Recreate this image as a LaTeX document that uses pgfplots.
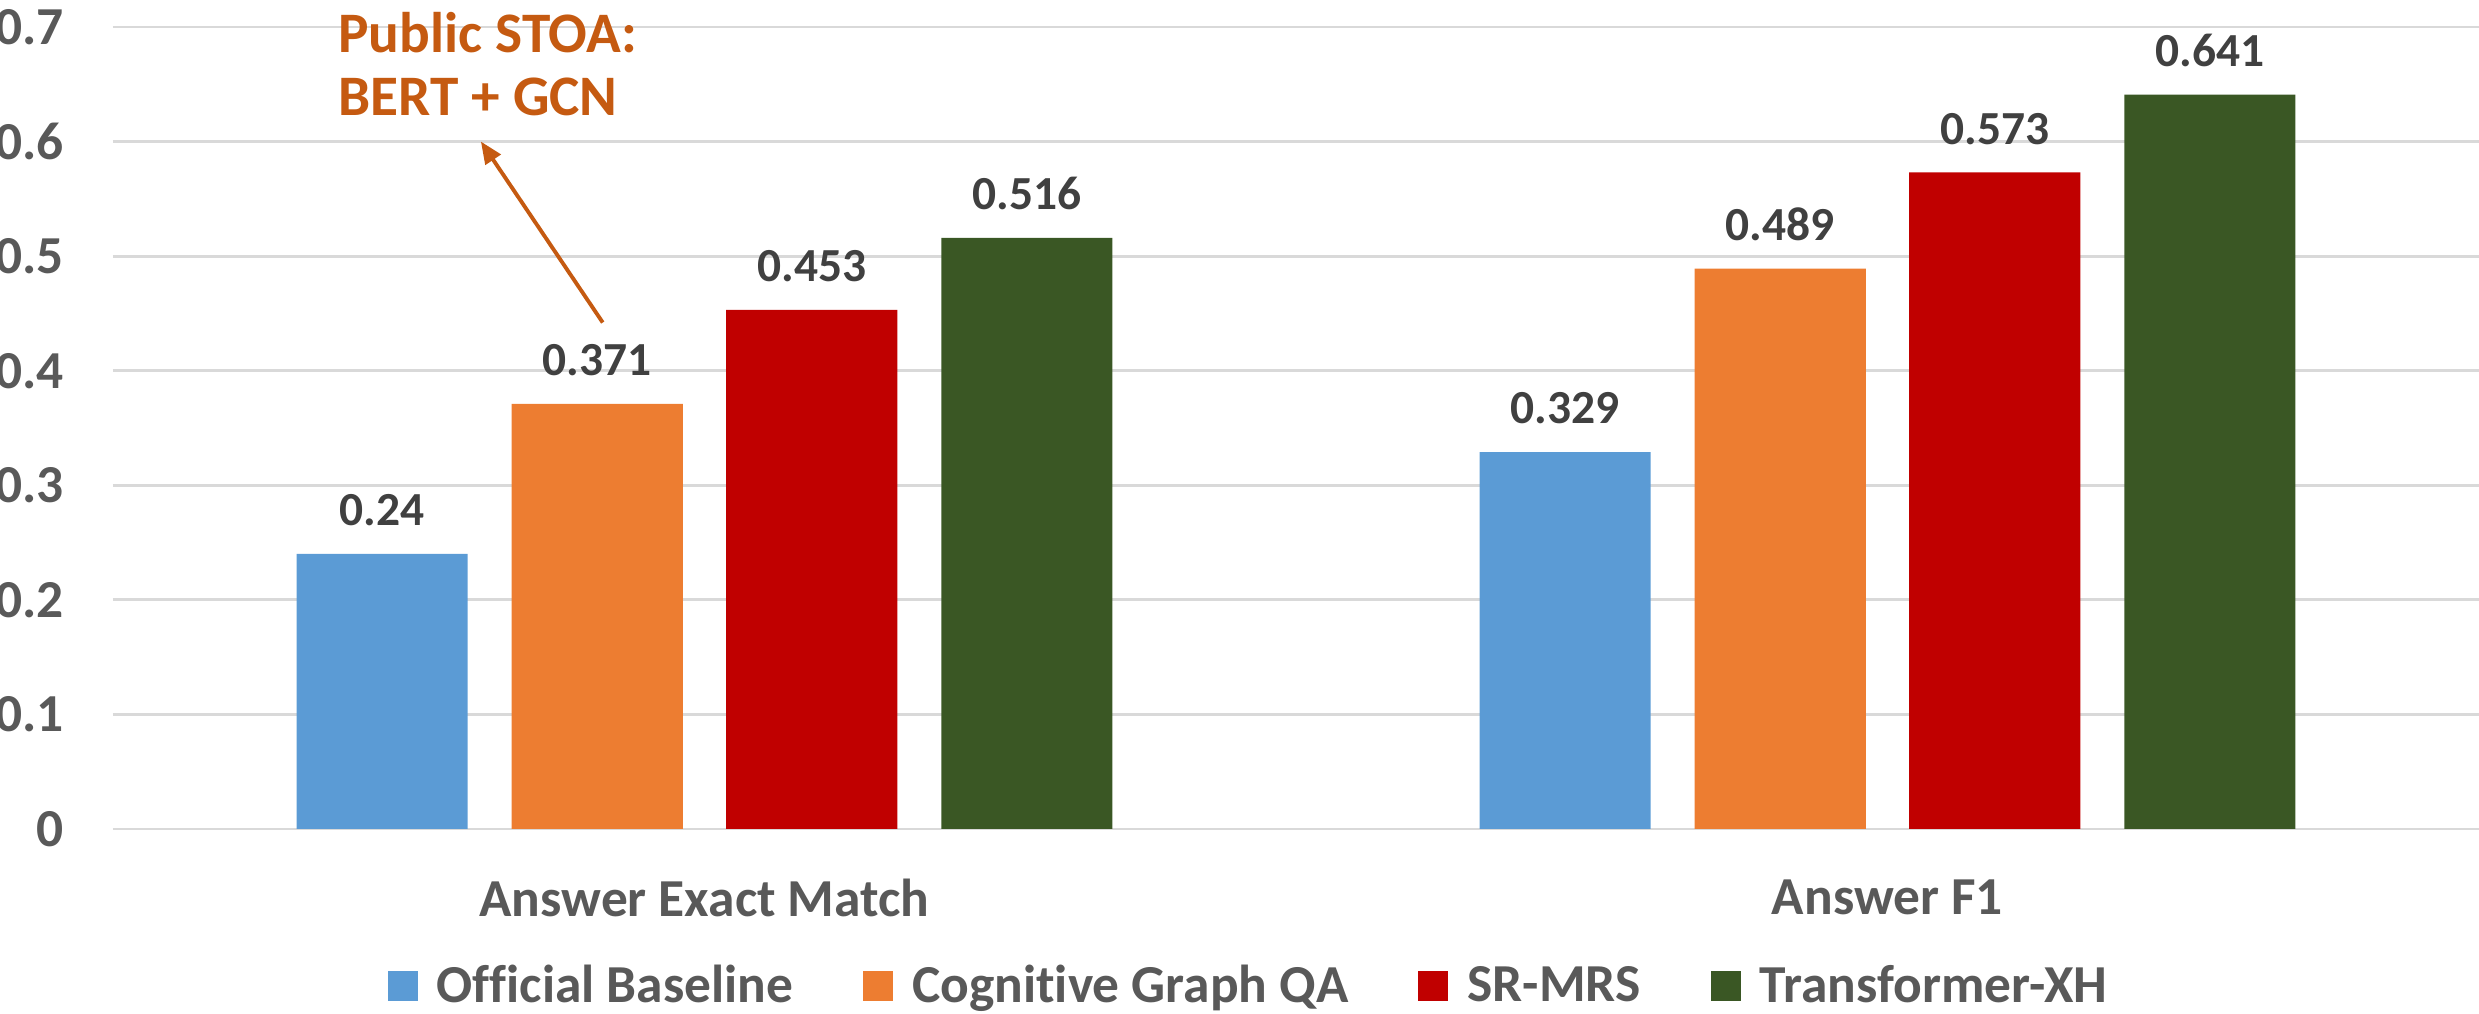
\documentclass[border=0pt]{standalone}
\usepackage{fontspec}
\setmainfont{Carlito}[Ligatures=NoCommon]
\usepackage{pgfplots}
\pgfplotsset{compat=1.18}
\usetikzlibrary{arrows.meta}
\definecolor{cBlue}{HTML}{5B9BD5}
\definecolor{cOrange}{HTML}{ED7D31}
\definecolor{cRed}{HTML}{C00000}
\definecolor{cGreen}{HTML}{3A5724}
\definecolor{gridc}{HTML}{D9D9D9}
\definecolor{gtext}{HTML}{595959}
\definecolor{labc}{HTML}{404040}
\definecolor{annot}{HTML}{C55A11}
\newcommand{\lf}{\fontsize{13.5}{16}\selectfont\bfseries}
\newcommand{\tf}{\fontsize{15.2}{18}\selectfont\bfseries}
\newcommand{\af}{\fontsize{16.3}{19}\selectfont\bfseries}
\pgfplotsset{sqlegend/.style={legend image code/.code={\fill[##1] (0mm,-1.5mm) rectangle (3mm,1.5mm);}}}
\begin{document}
\begin{tikzpicture}
\begin{axis}[
  scale only axis, width=236.6mm, height=80.2mm,
  xmin=-0.5, xmax=1.5, ymin=0, ymax=0.7,
  xtick={0,1}, xticklabels={Answer Exact Match, Answer F1},
  ytick={0,0.1,0.2,0.3,0.4,0.5,0.6,0.7},
  axis line style={draw=none},
  major tick length=0pt,
  ymajorgrids, grid style={color=gridc, line width=0.8pt},
  tick label style={font=\tf, text=gtext},
  yticklabel style={anchor=east, xshift=-3.7mm},
  xticklabel style={anchor=center, yshift=-6.85mm},
  /pgf/number format/.cd, fixed, precision=3, assume math mode=true, /pgfplots/.cd,
  ybar, bar width=0.1447,
  clip=false,
  nodes near coords,
  every node near coord/.append style={font=\lf, text=labc, anchor=south, inner sep=0pt, yshift=2.7mm},
  sqlegend,
  legend style={at={(0.481,-0.196)}, anchor=center, legend columns=4, draw=none, font=\tf, text=gtext,
    /tikz/every odd column/.append style={column sep=1.2mm},
    /tikz/every even column/.append style={column sep=6.3mm}},
  legend cell align=left,
]
\addplot[fill=cBlue, draw=none, bar shift=0pt] coordinates {(-0.2725,0.24) (0.7275,0.329)};
\addplot[fill=cOrange, draw=none, bar shift=0pt] coordinates {(-0.0907,0.371) (0.9093,0.489)};
\addplot[fill=cRed, draw=none, bar shift=0pt] coordinates {(0.0907,0.453) (1.0907,0.573)};
\addplot[fill=cGreen, draw=none, bar shift=0pt] coordinates {(0.2725,0.516) (1.2725,0.641)};
\legend{Official Baseline, Cognitive Graph QA, SR-MRS, Transformer-XH}
\node[anchor=base west, font=\af, text=annot, inner sep=0pt] at (axis cs:-0.31,0.678) {Public STOA:};
\node[anchor=base west, font=\af, text=annot, inner sep=0pt] at (axis cs:-0.31,0.623) {BERT + GCN};
\draw[annot, line width=1.1pt, -{Triangle[length=2.2mm,width=1.8mm]}] (axis cs:-0.086,0.442) -- (axis cs:-0.189,0.600);
\coordinate (bl) at (rel axis cs:0,0);
\coordinate (tr) at (rel axis cs:1,1);
\end{axis}
\pgfresetboundingbox
\path[use as bounding box] ([xshift=-11.3mm,yshift=-18.5mm]bl) rectangle ([yshift=2.7mm]tr);
\end{tikzpicture}
\end{document}
